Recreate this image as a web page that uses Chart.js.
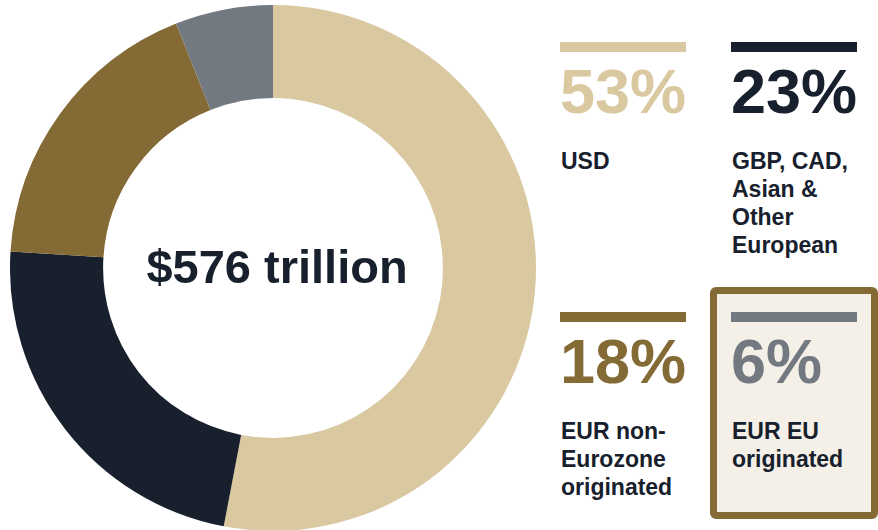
<!DOCTYPE html>
<html>
<head>
<meta charset="utf-8">
<script src="https://cdn.jsdelivr.net/npm/chart.js@4"></script>
<style>
  html, body { margin: 0; padding: 0; background: #fff; overflow: hidden; }
  body { width: 878px; height: 530px; position: relative; font-family: "Liberation Sans", Arial, sans-serif; }
  #chartBox { position: absolute; left: 10px; top: 5px; width: 526px; height: 526px; }
  .box { position: absolute; left: 710px; top: 287px; width: 168px; height: 232px; box-sizing: border-box;
         border: 7px solid #846A35; background: #F4EFE7; border-radius: 6px; }
  .cell { position: absolute; width: 150px; }
  .bar { position: absolute; left: 0; top: 0; width: 126px; height: 10px; }
  .pct { position: absolute; left: 0; top: 18px; font-size: 63px; line-height: 63px; font-weight: bold; white-space: nowrap; }
  .lbl { position: absolute; left: 1px; top: 105px; font-size: 23px; line-height: 28px; font-weight: bold; color: #17202C; white-space: nowrap; }
</style>
</head>
<body>
<div class="box"></div>
<div id="chartBox"><canvas id="donut"></canvas></div>
<div id="cells"></div>
<script>
// Data
const categories = ['USD', 'GBP, CAD, Asian & Other European', 'EUR non-Eurozone originated', 'EUR EU originated'];
const shares = [53, 23, 18, 6];
const panelLabels = [['USD'], ['GBP, CAD,', 'Asian &', 'Other', 'European'], ['EUR non-', 'Eurozone', 'originated'], ['EUR EU', 'originated']];
const totalLabel = '$576 trillion';

// Styles
const colors = ['#D9C8A0', '#17202C', '#846A35', '#737980'];
const cellPos = [[560, 42], [731, 42], [560, 312], [731, 312]];

// Center text plugin
const centerText = {
    id: 'centerText',
    afterDraw(chart) {
        const ctx = chart.ctx;
        const arc = chart.getDatasetMeta(0).data[0];
        ctx.save();
        ctx.font = 'bold 47px "Liberation Sans", Arial, sans-serif';
        ctx.fillStyle = '#17202C';
        ctx.textAlign = 'center';
        ctx.textBaseline = 'middle';
        ctx.fillText(totalLabel, arc.x + 4, arc.y + 2);
        ctx.restore();
    }
};

new Chart(document.getElementById('donut').getContext('2d'), {
    type: 'doughnut',
    data: {
        labels: categories,
        datasets: [{
            data: shares,
            backgroundColor: colors,
            borderWidth: 0,
            hoverOffset: 0
        }]
    },
    options: {
        responsive: true,
        maintainAspectRatio: false,
        animation: false,
        cutout: '64.6%',
        layout: { padding: 0 },
        plugins: {
            legend: { display: false },
            tooltip: { enabled: false }
        }
    },
    plugins: [centerText]
});

// Side panels
const cells = document.getElementById('cells');
shares.forEach(function(v, i) {
    const cell = document.createElement('div');
    cell.className = 'cell';
    cell.style.left = cellPos[i][0] + 'px';
    cell.style.top = cellPos[i][1] + 'px';

    const bar = document.createElement('div');
    bar.className = 'bar';
    bar.style.background = colors[i];
    cell.appendChild(bar);

    const pct = document.createElement('div');
    pct.className = 'pct';
    pct.style.color = colors[i];
    pct.textContent = v + '%';
    cell.appendChild(pct);

    const lbl = document.createElement('div');
    lbl.className = 'lbl';
    lbl.innerHTML = panelLabels[i].join('<br>');
    cell.appendChild(lbl);

    cells.appendChild(cell);
});
</script>
</body>
</html>
